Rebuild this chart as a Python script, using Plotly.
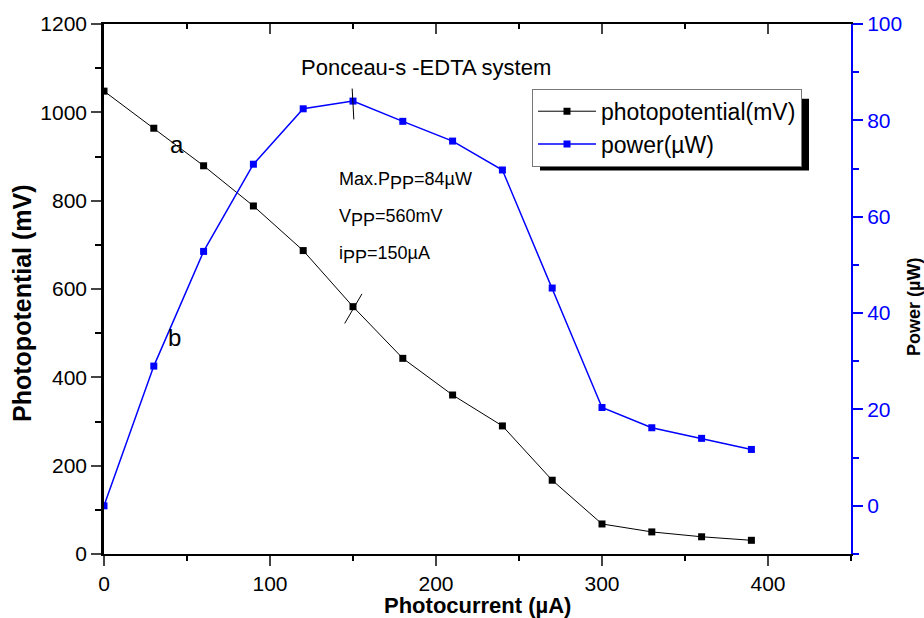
import plotly.graph_objects as go

current = [0, 30, 60, 90, 120, 150, 180, 210, 240, 270, 300, 330, 360, 390]
photopotential = [1048, 964, 879, 788, 687, 560, 443, 360, 290, 167, 68, 50, 39, 31]
power = [0, 29, 52.8, 70.9, 82.4, 84, 79.8, 75.7, 69.7, 45.2, 20.4, 16.2, 14.0, 11.7]

x_ticks = [0, 100, 200, 300, 400]
y_ticks = [0, 200, 400, 600, 800, 1000, 1200]
y2_ticks = [0, 20, 40, 60, 80, 100]

FONT = "Liberation Sans, Arial, sans-serif"
BLUE = "#0000ff"

L, R, T, B = 104, 73, 22, 64
W, H = 924, 618
PW, PH = W - L - R, H - T - B


def px(xp):
    return (xp - L) / PW


def py(yp):
    return (H - B - yp) / PH


fig = go.Figure()
fig.add_trace(go.Scatter(
    x=current, y=photopotential, name="photopotential(mV)",
    mode="lines+markers", line=dict(color="black", width=1),
    marker=dict(symbol="square", size=7, color="black"),
))
fig.add_trace(go.Scatter(
    x=current, y=power, name="power(µW)", yaxis="y2",
    mode="lines+markers", line=dict(color=BLUE, width=1.5),
    marker=dict(symbol="square", size=7, color=BLUE),
))
# dummy trace for the top mirrored axis
fig.add_trace(go.Scatter(x=[None], y=[None], xaxis="x2", showlegend=False, hoverinfo="skip"))

ipk = power.index(max(power))
xp, vp, pp = current[ipk], photopotential[ipk], power[ipk]

shapes = [
    # legend shadow
    dict(type="rect", xref="paper", yref="paper", x0=px(540), x1=px(809), y0=py(169), y1=py(97),
         fillcolor="black", line=dict(width=0), layer="above"),
    # peak marks
    dict(type="line", xref="x", yref="y2", x0=xp - 0.5, x1=xp + 0.5, y0=pp + 2.6, y1=pp - 3.8,
         line=dict(color="black", width=1)),
    dict(type="line", xref="x", yref="y", x0=xp - 5, x1=xp + 5.4, y0=vp - 38, y1=vp + 29,
         line=dict(color="black", width=1)),
]

SUB = '<sub><span style="font-size:18px">PP</span></sub>'


def ann(xpx, ypx, text, size, xanchor="center", angle=0):
    return dict(x=px(xpx), y=py(ypx), xref="paper", yref="paper", text=text, showarrow=False,
                xanchor=xanchor, yanchor="middle", textangle=angle,
                font=dict(size=size, color="black", family=FONT))


annotations = [
    ann(426, 66, "Ponceau-s -EDTA system", 22),
    ann(177, 143, "a", 24),
    ann(174, 337, "b", 24),
    ann(337, 180, "Max.P" + SUB + "=84µW", 18, xanchor="left"),
    ann(337, 217, "V" + SUB + "=560mV", 18, xanchor="left"),
    ann(337, 254, "i" + SUB + "=150µA", 18, xanchor="left"),
    # axis titles
    ann(477, 606, "<b>Photocurrent (µA)</b>", 22),
    ann(22, 303, "<b>Photopotential (mV)</b>", 25, angle=-90),
    ann(914, 306, "<b>Power (µW)</b>", 18, angle=-90),
]

fig.update_layout(
    width=W, height=H,
    margin=dict(l=L, r=R, t=T, b=B),
    paper_bgcolor="white", plot_bgcolor="white",
    font=dict(family=FONT, color="black", size=21),
    showlegend=True,
    legend=dict(x=px(532), y=py(87), xanchor="left", yanchor="top",
                bgcolor="white", bordercolor="#777777", borderwidth=1,
                font=dict(size=23, family=FONT, color="black"),
                tracegroupgap=0, itemwidth=58),
    xaxis=dict(range=[0, 450], tickvals=x_ticks, ticks="outside", ticklen=10, tickwidth=1.5,
               showline=True, linecolor="black", linewidth=2, showgrid=False, zeroline=False,
               minor=dict(ticks="outside", dtick=50, ticklen=5, tickwidth=1.5, tickcolor="black"),
               tickfont=dict(size=21, family=FONT)),
    xaxis2=dict(range=[0, 450], overlaying="x", side="top", anchor="y", tickvals=x_ticks,
                ticks="inside", ticklen=10, tickwidth=1.5, showticklabels=False,
                showline=True, linecolor="black", linewidth=2, showgrid=False, zeroline=False,
                minor=dict(ticks="inside", dtick=50, ticklen=5, tickwidth=1.5, tickcolor="black")),
    yaxis=dict(range=[0, 1200], tickvals=y_ticks, ticks="outside", ticklen=10, tickwidth=1.5,
               showline=True, linecolor="black", linewidth=2.5, showgrid=False, zeroline=False,
               minor=dict(ticks="outside", dtick=100, ticklen=6, tickwidth=1.5, tickcolor="black"),
               tickfont=dict(size=21, family=FONT)),
    yaxis2=dict(range=[-10, 100], overlaying="y", side="right", anchor="x", tickvals=y2_ticks,
                ticks="outside", ticklen=10, tickwidth=1.5, tickcolor=BLUE,
                showline=True, linecolor=BLUE, linewidth=2, showgrid=False, zeroline=False,
                minor=dict(ticks="outside", dtick=10, ticklen=6, tickwidth=1.5, tickcolor=BLUE),
                tickfont=dict(size=21, color=BLUE, family=FONT)),
    shapes=shapes,
    annotations=annotations,
)

fig.write_html("out.html")
